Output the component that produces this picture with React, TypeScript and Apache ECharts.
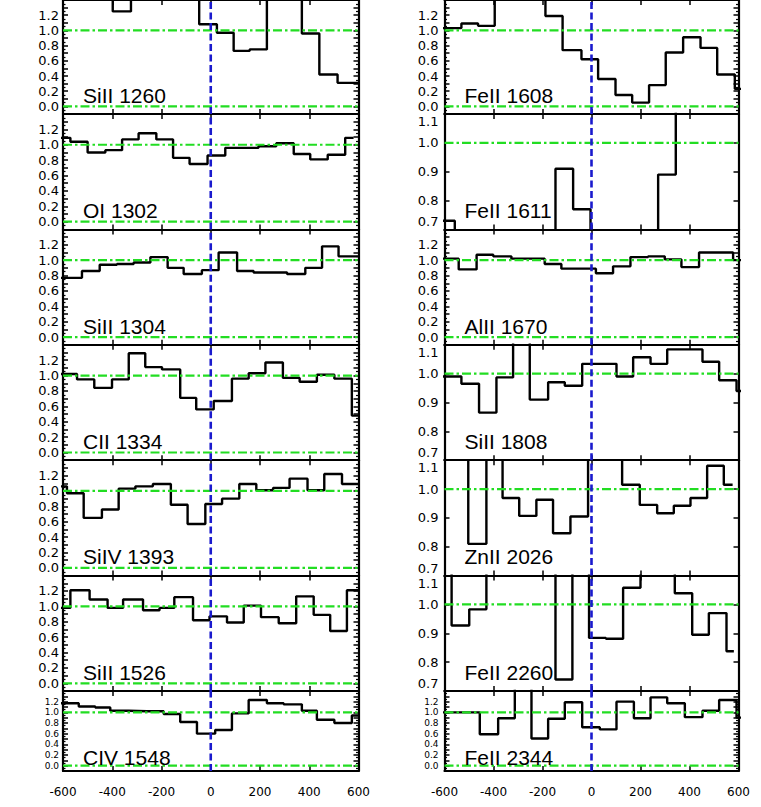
import React, { useEffect, useRef } from "react";
import * as echarts from "echarts";

// ---------- data (velocity bin edges in km/s, normalised flux per bin) ----------
const panelNames = [
  "SiII 1260", "OI 1302", "SiII 1304", "CII 1334", "SiIV 1393", "SiII 1526", "CIV 1548",
  "FeII 1608", "FeII 1611", "AlII 1670", "SiII 1808", "ZnII 2026", "FeII 2260", "FeII 2344",
];

const velocityTicks = [-600, -400, -200, 0, 200, 400, 600];
const fullRangeLabels = ["0.0", "0.2", "0.4", "0.6", "0.8", "1.0", "1.2"];
const narrowRangeLabels = ["0.7", "0.8", "0.9", "1.0", "1.1"];

const siII1260Edges = [-650, -398, -324, -47, 25, 93, 158, 228, 370, 441, 515, 650];
const siII1260Flux = [1.6, 1.25, 1.6, 1.08, 0.97, 0.73, 0.75, 1.6, 0.96, 0.42, 0.31];

const oI1302Edges = [-640, -570, -500, -428, -360, -293, -221, -153, -86, -13, 59, 127, 194, 266, 337, 404, 475, 546, 580];
const oI1302Flux = [1.09, 1.04, 0.9, 0.93, 1.07, 1.15, 1.07, 0.83, 0.75, 0.86, 0.96, 0.96, 0.98, 1.02, 0.88, 0.81, 0.87, 1.09];

const siII1304Edges = [-640, -523, -451, -381, -313, -245, -175, -110, -36, 32, 107, 174, 242, 310, 384, 452, 519, 640];
const siII1304Flux = [0.77, 0.86, 0.94, 0.95, 0.97, 1.04, 0.9, 0.82, 0.87, 1.1, 0.86, 0.84, 0.84, 0.82, 0.9, 1.18, 1.05];

const cII1334Edges = [-640, -543, -473, -401, -333, -266, -198, -124, -59, 12, 86, 154, 222, 293, 361, 431, 502, 573, 640];
const cII1334Flux = [1.02, 0.95, 0.84, 0.95, 1.29, 1.11, 1.08, 0.71, 0.56, 0.67, 0.96, 1.03, 1.17, 0.97, 0.92, 1.01, 0.96, 0.48];

const siIV1393Edges = [-640, -584, -516, -442, -374, -306, -235, -162, -94, -22, 46, 116, 185, 253, 320, 393, 461, 533, 640];
const siIV1393Flux = [1.06, 0.97, 0.65, 0.76, 1.03, 1.06, 1.09, 0.82, 0.57, 0.83, 0.9, 1.09, 1.01, 1.04, 1.16, 1.01, 1.22, 1.09];

const siII1526Edges = [-640, -570, -492, -419, -356, -275, -208, -148, -72, -5, 66, 134, 204, 276, 347, 418, 485, 553, 640];
const siII1526Flux = [0.98, 1.21, 1.09, 0.98, 1.09, 0.95, 0.98, 1.12, 0.82, 0.87, 0.79, 1.01, 0.86, 0.78, 1.13, 0.89, 0.68, 1.21];

const cIV1548Edges = [-640, -536, -469, -408, -333, -259, -191, -124, -56, 18, 86, 154, 228, 296, 370, 431, 502, 573, 640];
const cIV1548Flux = [1.17, 1.11, 1.09, 1.03, 1.02, 1.02, 0.97, 0.82, 0.6, 0.67, 0.98, 1.23, 1.17, 1.15, 1.03, 0.86, 0.8, 0.94];

const feII1608Edges = [-640, -531, -463, -395, -188, -118, -41, 27, 98, 166, 235, 303, 374, 445, 513, 585, 640];
const feII1608Flux = [1.03, 1.09, 1.06, 1.6, 1.19, 0.74, 0.62, 0.36, 0.15, 0.05, 0.28, 0.71, 0.91, 0.77, 0.42, 0.23];

const feII1611Edges = [-640, -558, -147, -75, -4, 272, 344, 640];
const feII1611Flux = [0.73, 0.6, 0.91, 0.77, 0.6, 0.89, 1.3];

const alII1670Edges = [-640, -542, -469, -401, -327, -259, -191, -123, -48, 18, 88, 159, 231, 299, 367, 439, 510, 578, 640];
const alII1670Flux = [1.02, 0.88, 1.07, 1.05, 1.02, 1.02, 0.95, 0.89, 0.89, 0.83, 0.92, 1.04, 1.05, 1.01, 0.91, 1.1, 1.1, 1.0];

const siII1808Edges = [-640, -531, -459, -388, -320, -252, -177, -109, -38, 34, 102, 170, 241, 309, 381, 453, 521, 592, 640];
const siII1808Flux = [0.99, 0.965, 0.865, 0.987, 1.13, 0.91, 0.97, 0.958, 1.034, 1.034, 0.99, 1.057, 1.034, 1.084, 1.084, 1.041, 0.977, 0.94];

const znII2026Edges = [-640, -503, -429, -363, -295, -225, -157, -86, -14, 125, 197, 268, 336, 404, 472, 540, 576];
const znII2026Flux = [1.2, 0.81, 1.2, 0.969, 0.907, 0.963, 0.847, 0.905, 1.2, 1.015, 0.945, 0.916, 0.942, 0.969, 1.081, 1.015];

const feII2260Edges = [-640, -571, -499, -429, -147, -78, -10, 59, 129, 200, 340, 411, 479, 551, 581];
const feII2260Flux = [1.2, 0.927, 0.983, 1.2, 0.74, 1.2, 0.884, 0.881, 1.058, 1.2, 1.039, 0.895, 0.97, 0.838];

const feII2344Edges = [-640, -456, -381, -313, -245, -177, -109, -38, 34, 102, 173, 241, 309, 381, 453, 521, 592, 640];
const feII2344Flux = [1.0, 0.59, 0.89, 1.6, 0.51, 0.88, 1.19, 0.72, 0.68, 1.2, 0.89, 1.28, 1.17, 0.91, 1.03, 1.23, 0.9];

const panelEdges = [
  siII1260Edges, oI1302Edges, siII1304Edges, cII1334Edges, siIV1393Edges, siII1526Edges, cIV1548Edges,
  feII1608Edges, feII1611Edges, alII1670Edges, siII1808Edges, znII2026Edges, feII2260Edges, feII2344Edges,
];
const panelFlux = [
  siII1260Flux, oI1302Flux, siII1304Flux, cII1334Flux, siIV1393Flux, siII1526Flux, cIV1548Flux,
  feII1608Flux, feII1611Flux, alII1670Flux, siII1808Flux, znII2026Flux, feII2260Flux, feII2344Flux,
];
// which panels use the narrow 0.7-1.1 flux axis
const narrowPanels = ["FeII 1611", "SiII 1808", "ZnII 2026", "FeII 2260"];

// ---------- styling ----------
const W = 761;
const H = 807;
const colLeft = [63, 444.5];
const colWidth = [295.5, 294];
const rowTop0 = -1.4;
const rowH = 115.4;
const lastRowH = 80;
const GREEN = "#22dd22";
const BLUE = "#1a1acd";
const TICK_FONT = "DejaVu Sans";
const LABEL_FONT = "Liberation Sans, Arial, Helvetica, sans-serif";

function buildOption() {
  const grid: any[] = [];
  const xAxis: any[] = [];
  const yAxis: any[] = [];
  const series: any[] = [];
  const graphic: any[] = [];

  panelNames.forEach((name, i) => {
    const col = i < 7 ? 0 : 1;
    const row = i % 7;
    const top = rowTop0 + row * rowH;
    const height = row < 6 ? rowH : lastRowH;
    grid.push({ left: colLeft[col], top, width: colWidth[col], height, containLabel: false });

    const narrow = narrowPanels.includes(name);
    const yMin = narrow ? 0.7 : -0.1;
    const yMax = narrow ? 1.1 : 1.4;
    const labelSet = narrow ? narrowRangeLabels : fullRangeLabels;

    const axisLine = { show: true, onZero: false, lineStyle: { color: "#000", width: 2.2 } };
    // bottom x
    xAxis.push({
      type: "value",
      gridIndex: i,
      position: "bottom",
      min: velocityTicks[0],
      max: velocityTicks[velocityTicks.length - 1],
      interval: 200,
      axisLine,
      axisTick: { show: true, inside: true, length: 5, lineStyle: { color: "#000", width: 1.5 } },
      axisLabel: {
        show: row === 6,
        margin: 15,
        color: "#000",
        fontFamily: TICK_FONT,
        fontSize: 12,
        formatter: (v: number) => String(Math.round(v)),
      },
      splitLine: { show: false },
    });
    // top x
    xAxis.push({
      type: "value",
      gridIndex: i,
      position: "top",
      min: velocityTicks[0],
      max: velocityTicks[velocityTicks.length - 1],
      interval: 200,
      axisLine,
      axisTick: { show: true, inside: true, length: 5, lineStyle: { color: "#000", width: 1.5 } },
      axisLabel: { show: false },
      splitLine: { show: false },
    });

    const yCommon = {
      type: "value",
      gridIndex: i,
      min: yMin,
      max: yMax,
      interval: 0.1,
      axisLine,
      axisTick: { show: true, inside: true, length: 5, lineStyle: { color: "#000", width: 1.5 } },
      minorTick: { show: !narrow, splitNumber: 2, length: 2.5, lineStyle: { color: "#000", width: 1.2 } },
      splitLine: { show: false },
      minorSplitLine: { show: false },
    };
    const compact = row === 6;
    yAxis.push({
      ...yCommon,
      position: "left",
      axisLabel: {
        show: true,
        margin: col === 0 ? 4 : 6,
        color: "#000",
        fontFamily: TICK_FONT,
        fontSize: compact ? 9 : 13,
        lineHeight: compact ? 9 : 15,
        showMinLabel: true,
        showMaxLabel: true,
        verticalAlignMinLabel: narrow ? "bottom" : undefined,
        verticalAlignMaxLabel: narrow ? "top" : undefined,
        formatter: (v: number) => {
          const s = v.toFixed(1);
          return labelSet.includes(s) ? s : "";
        },
      },
    });
    yAxis.push({
      ...yCommon,
      position: "right",
      axisLabel: { show: false },
    });

    const edges = panelEdges[i];
    const flux = panelFlux[i];
    const pts: number[][] = flux.map((f, k) => [edges[k], f]);
    pts.push([edges[edges.length - 1], flux[flux.length - 1]]);

    const xi = 2 * i;
    const yi = 2 * i;
    series.push({
      type: "line",
      name: name,
      xAxisIndex: xi,
      yAxisIndex: yi,
      data: pts,
      step: "end",
      symbol: "none",
      clip: true,
      z: 2,
      lineStyle: { color: "#000", width: 2.4 },
      silent: true,
    });

    const refLevels = narrow ? [1.0] : [1.0, 0.0];
    refLevels.forEach((lvl) => {
      series.push({
        type: "line",
        xAxisIndex: xi,
        yAxisIndex: yi,
        data: [
          [velocityTicks[0], lvl],
          [velocityTicks[velocityTicks.length - 1], lvl],
        ],
        symbol: "none",
        clip: true,
        z: 3,
        lineStyle: { color: GREEN, width: 2.2, type: [9, 3, 2.5, 3] },
        silent: true,
      });
    });

    series.push({
      type: "line",
      xAxisIndex: xi,
      yAxisIndex: yi,
      data: [
        [0, yMin],
        [0, yMax],
      ],
      symbol: "none",
      clip: true,
      z: 4,
      lineStyle: { color: BLUE, width: 2.6, type: [7, 3.5] },
      silent: true,
    });

    const bottom = top + height;
    graphic.push({
      type: "text",
      x: colLeft[col] + 20,
      y: row < 6 ? bottom - 18.8 : bottom - 14,
      z: 10,
      style: {
        text: name,
        fill: "#000",
        fontFamily: LABEL_FONT,
        fontSize: 21,
        font: `21px ${LABEL_FONT}`,
        textAlign: "left",
        textVerticalAlign: "middle",
        align: "left",
        verticalAlign: "middle",
      },
    });
  });

  return {
    animation: false,
    backgroundColor: "#ffffff",
    grid,
    xAxis,
    yAxis,
    series,
    graphic,
  };
}

export default function App() {
  const ref = useRef<HTMLDivElement>(null);
  useEffect(() => {
    if (!ref.current) return;
    const chart = echarts.init(ref.current, undefined, { renderer: "svg" });
    chart.setOption(buildOption() as any);
    return () => {
      chart.dispose();
    };
  }, []);
  return (
    <div
      ref={ref}
      style={{ position: "fixed", left: 0, top: 0, width: W, height: H, background: "#fff" }}
    />
  );
}
